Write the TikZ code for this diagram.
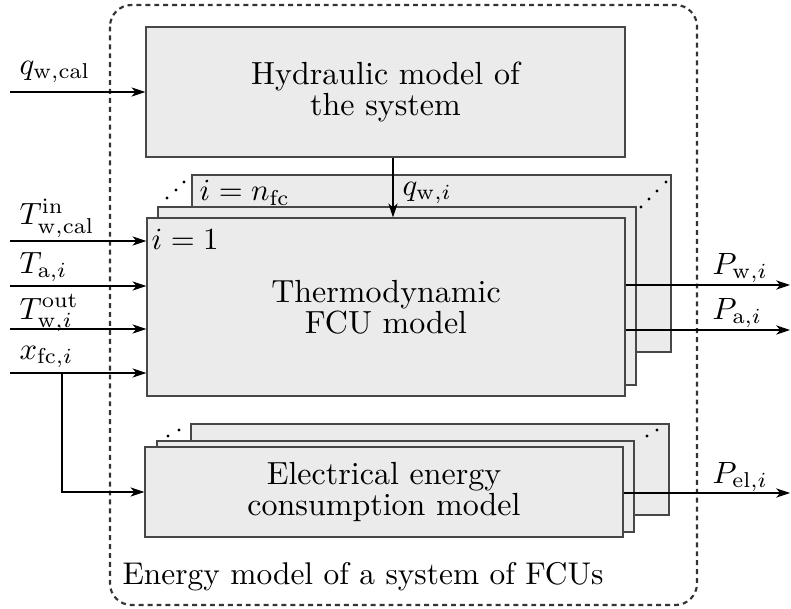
\documentclass[tikz,border=0pt]{standalone}
\usetikzlibrary{arrows.meta}
\newdimen\px \px=0.325pt
\definecolor{boxfill}{HTML}{EBEBEB}
\begin{document}
\begin{tikzpicture}[x=0.325pt,y=-0.325pt,
  box/.style={draw=black!72, fill=boxfill, line width=0.45pt, inner sep=0pt, align=center, font=\fontsize{10.4pt}{10pt}\selectfont},
  arr/.style={-{Stealth[length=4.5pt,width=3pt,inset=1.3pt]}, line width=0.4pt},
  frame/.style={draw=black!80, line width=0.7pt, dash pattern=on 1.6pt off 1.3pt, rounded corners=7pt},
  lbl/.style={inner sep=0pt},
  dotmark/.style={fill=black, radius=0.5pt}]
\useasboundingbox (0,0) rectangle (791,609);
% outer frame
\draw[frame] (110,5) rectangle (697,605);
\node[lbl, anchor=west, font=\fontsize{10.2pt}{12pt}\selectfont] (frmlbl) at (122,577) {Energy model of a system of FCUs};
% hydraulic
\node[box, minimum width=479\px, minimum height=130\px] (hyd) at (385.5,92) {Hydraulic model of\\the system};
% thermodynamic stack
\node[box, minimum width=479\px, minimum height=177\px] (thb) at (431.5,263.5) {};
\node[box, minimum width=478\px, minimum height=178\px] (thm) at (397,296) {};
\node[box, minimum width=478\px, minimum height=178\px] (th) at (386,307) {Thermodynamic\\FCU model};
\foreach \p in {(167,198),(176,190),(184,182),(641,207),(649,199),(657,191),(666,182)} \fill[dotmark] \p circle;
\node[lbl, anchor=west] (ione) at (151,239) {$i=1$};
\node[lbl, anchor=west] (inf) at (199,193) {$i=n_{\mathrm{fc}}$};
% electrical stack
\node[box, minimum width=478\px, minimum height=91\px] (elb) at (430,469.5) {};
\node[box, minimum width=477\px, minimum height=91\px] (elm) at (395.5,486.5) {};
\node[box, minimum width=478\px, minimum height=90\px] (el) at (384,492) {Electrical energy\\consumption model};
\foreach \p in {(168,436),(179,430),(647,436),(657,430)} \fill[dotmark] \p circle;
% inputs
\coordinate (qin) at (10,92);
\draw[arr] (qin) -- (hyd.west |- qin);
\node[lbl, anchor=west] (qinl) at (19,72) {$q_{\mathrm{w,cal}}$};
\coordinate (tin) at (10,241);
\coordinate (tai) at (10,286);
\coordinate (tout) at (10,329);
\coordinate (xin) at (10,373);
\coordinate (xb) at (62,373);
\draw[arr] (tin) -- (th.west |- tin);
\draw[arr] (tai) -- (th.west |- tai);
\draw[arr] (tout) -- (th.west |- tout);
\draw[arr] (xin) -- (th.west |- xin);
\draw[arr] (xb) |- (el.west);
\node[lbl, anchor=west] (tinl) at (19,218) {$T_{\mathrm{w,cal}}^{\mathrm{in}}$};
\node[lbl, anchor=west] (tail) at (19,267) {$T_{\mathrm{a},i}$};
\node[lbl, anchor=west] (toutl) at (19,313) {$T_{\mathrm{w},i}^{\mathrm{out}}$};
\node[lbl, anchor=west] (xinl) at (19,357) {$x_{\mathrm{fc},i}$};
% hydraulic to thermo
\coordinate (qx) at (393,0);
\draw[arr] (hyd.south -| qx) -- (th.north -| qx);
\node[lbl, anchor=west] (qwi) at (402,193) {$q_{\mathrm{w},i}$};
% outputs
\coordinate (pw) at (790,285);
\coordinate (pa) at (790,330);
\coordinate (pel) at (790,493);
\draw[arr] (th.east |- pw) -- (pw);
\draw[arr] (th.east |- pa) -- (pa);
\draw[arr] (el.east |- pel) -- (pel);
\node[lbl, anchor=west] (pwl) at (712,268) {$P_{\mathrm{w},i}$};
\node[lbl, anchor=west] (pal) at (712,313) {$P_{\mathrm{a},i}$};
\node[lbl, anchor=west] (pell) at (712,477) {$P_{\mathrm{el},i}$};
\end{tikzpicture}
\end{document}
